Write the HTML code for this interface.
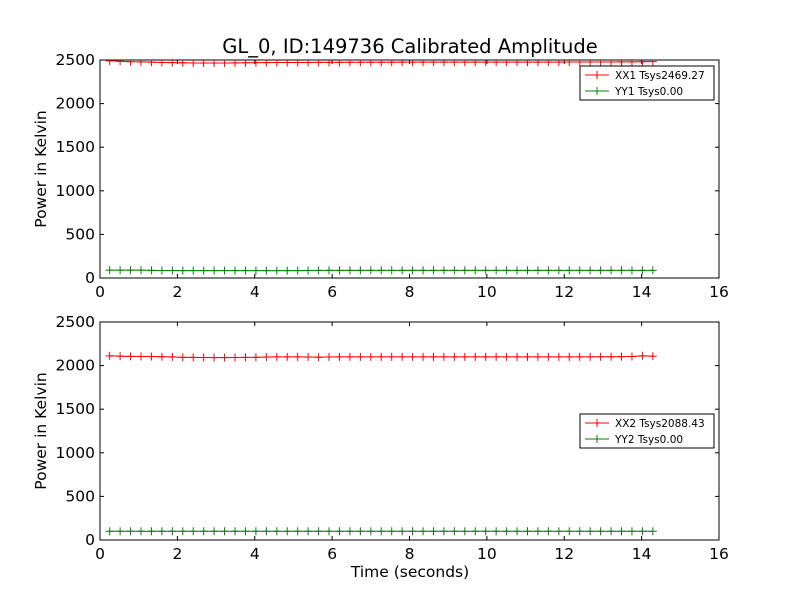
<!DOCTYPE html>
<html><head><meta charset="utf-8"><style>
body{margin:0;background:#fff}
svg text{font-family:"DejaVu Sans","Liberation Sans",sans-serif}
</style></head><body>
<svg id="chart" width="800" height="600" xmlns="http://www.w3.org/2000/svg">
<rect width="800" height="600" fill="#fff"/>
<text x="410" y="53" font-size="19.5" text-anchor="middle">GL_0, ID:149736 Calibrated Amplitude</text>
<g id="p1"></g><g id="p2"></g>
<text x="410" y="577" font-size="15.5" text-anchor="middle">Time (seconds)</text>
</svg>
<script>
const xx1 = [2490,2485,2480,2478,2475,2472,2470,2468,2466,2465,2465,2466,2467,2468,2470,2470,2471,2472,2472,2472,2473,2473,2473,2474,2474,2474,2474,2474,2475,2475,2475,2475,2475,2475,2475,2475,2476,2476,2476,2476,2476,2476,2476,2476,2477,2477,2477,2477,2477,2478,2478,2480,2482];
const yy1 = [90,90,90,90,88,86,86,85,85,85,85,85,85,85,85,84,84,84,85,86,87,88,88,88,88,88,88,88,88,88,88,88,88,88,88,88,88,88,88,87,87,88,88,88,88,88,88,88,88,88,88,88,88];
const xx2 = [2112,2108,2106,2105,2104,2102,2100,2095,2094,2093,2092,2092,2093,2094,2095,2098,2100,2100,2100,2099,2096,2099,2100,2100,2100,2100,2100,2100,2100,2100,2100,2100,2100,2100,2100,2100,2100,2100,2100,2100,2100,2100,2100,2100,2100,2100,2100,2101,2102,2103,2104,2112,2108];
const yy2 = [100,100,100,100,100,100,100,100,100,100,100,100,100,100,100,100,100,100,100,100,100,100,100,100,100,100,100,100,100,100,100,100,100,100,100,100,100,100,100,100,100,100,100,100,100,100,100,100,100,100,100,100,100];
const xTicks = [0,2,4,6,8,10,12,14,16];
const yTicks = [0,500,1000,1500,2000,2500];
const t0 = 0.25, dt = 0.27;
const NS='http://www.w3.org/2000/svg';
function mk(parent,tag,attrs){const e=document.createElementNS(NS,tag);for(const k in attrs)e.setAttribute(k,attrs[k]);parent.appendChild(e);return e;}
function panel(gid,top,series,legendY,prefix){
  const g=document.getElementById(gid);
  const L=100,R=719,T=top,B=top+218;
  const sx=v=>L+v/16*(R-L), sy=v=>B-v/2500*(B-T);
  const cid='clip'+gid;
  const cp=mk(mk(g,'defs',{}),'clipPath',{id:cid});mk(cp,'rect',{x:L,y:T,width:R-L,height:B-T});
  const frame=mk(g,'rect',{x:L,y:T,width:R-L,height:B-T,fill:'none',stroke:'#000','stroke-width':1});
  
  
  xTicks.forEach(v=>{
    mk(g,'line',{x1:sx(v),x2:sx(v),y1:B,y2:B-4,stroke:'#000'});
    mk(g,'line',{x1:sx(v),x2:sx(v),y1:T,y2:T+4,stroke:'#000'});
    const t=mk(g,'text',{x:sx(v),y:B+19,'font-size':15.5,'text-anchor':'middle'});t.textContent=v;
    
    
  });
  yTicks.forEach(v=>{
    mk(g,'line',{x1:L,x2:L+4,y1:sy(v),y2:sy(v),stroke:'#000'});
    mk(g,'line',{x1:R,x2:R-4,y1:sy(v),y2:sy(v),stroke:'#000'});
    const t=mk(g,'text',{x:L-5,y:sy(v)+5,'font-size':15.5,'text-anchor':'end'});t.textContent=v;
    
    
  });
  const yt=mk(g,'text',{x:46,y:(T+B)/2,'font-size':15.5,'text-anchor':'middle',transform:`rotate(-90 46 ${(T+B)/2})`});
  yt.textContent='Power in Kelvin';
  
  
  const cg=mk(g,'g',{'clip-path':`url(#${cid})`});
  series.forEach(s=>{
    const pts=s.data.map((v,i)=>[sx(t0+i*dt),sy(v)]);
    const pl=mk(cg,'polyline',{points:pts.map(p=>p.join(',')).join(' '),fill:'none',stroke:s.color,'stroke-width':1});
    
    
    pts.forEach(p=>{
      mk(cg,'line',{x1:p[0]-4,x2:p[0]+4,y1:p[1],y2:p[1],stroke:s.color});
      mk(cg,'line',{x1:p[0],x2:p[0],y1:p[1]-4,y2:p[1]+4,stroke:s.color});
    });
  });
  const lg=mk(g,'g',{});
  
  
  mk(lg,'rect',{x:580,y:legendY,width:134,height:34,fill:'#fff',stroke:'#000'});
  series.forEach((s,i)=>{
    const y=legendY+9+i*16;
    mk(lg,'line',{x1:585,x2:609,y1:y,y2:y,stroke:s.color});
    mk(lg,'line',{x1:597,x2:597,y1:y-4,y2:y+4,stroke:s.color});
    const t=mk(lg,'text',{x:615,y:y+4,'font-size':10.5});t.textContent=s.label;
    
    
  });
}
panel('p1',60,[{data:xx1,color:'#ff0000',name:'xx1',label:'XX1 Tsys2469.27'},{data:yy1,color:'#008000',name:'yy1',label:'YY1 Tsys0.00'}],66,'top');
panel('p2',322,[{data:xx2,color:'#ff0000',name:'xx2',label:'XX2 Tsys2088.43'},{data:yy2,color:'#008000',name:'yy2',label:'YY2 Tsys0.00'}],414,'bottom');
</script>
</body></html>
